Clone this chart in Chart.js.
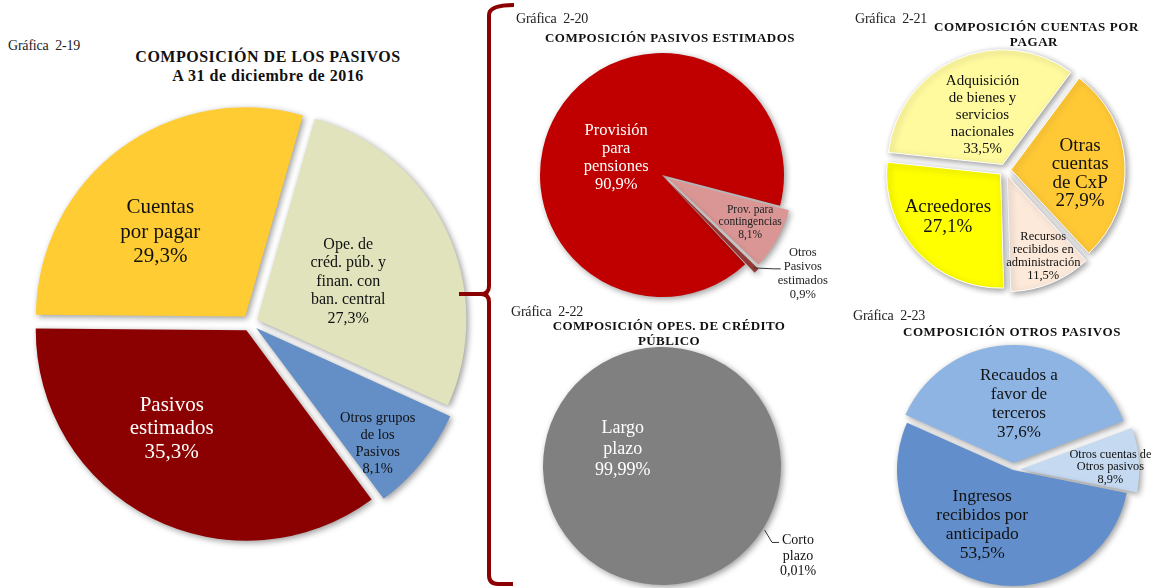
<!DOCTYPE html>
<html>
<head>
<meta charset="utf-8">
<script src="https://cdn.jsdelivr.net/npm/chart.js@4.4.1/dist/chart.umd.min.js"></script>
<style>
    body { margin: 0; width: 1159px; height: 588px; overflow: hidden; background: #fff; font-family: 'Liberation Serif', 'Times New Roman', serif; }
    canvas { position: absolute; }
    .tag { position: absolute; font-size: 14px; color: #222; white-space: nowrap; letter-spacing: -0.2px; }
    .ttl { position: absolute; font-size: 13px; font-weight: bold; color: #111; text-align: center; white-space: nowrap; line-height: 15px; }
    svg { position: absolute; left: 0; top: 0; }
</style>
</head>
<body>
<canvas id="chart19" width="500" height="460" style="left:0px; top:93px"></canvas>
<canvas id="chart20" width="340" height="300" style="left:492px; top:25px"></canvas>
<canvas id="chart21" width="300" height="290" style="left:855px; top:25px"></canvas>
<canvas id="chart22" width="340" height="260" style="left:492px; top:336px"></canvas>
<canvas id="chart23" width="290" height="260" style="left:868px; top:340px"></canvas>

<div class="tag" style="left:8px; top:38px">Gráfica&nbsp; 2-19</div>
<div class="ttl" style="left:118px; top:47px; width:300px; font-size:16px; line-height:19px; letter-spacing:0.5px">COMPOSICIÓN DE LOS PASIVOS<br>A 31 de diciembre de 2016</div>

<div class="tag" style="left:516px; top:11px">Gráfica&nbsp; 2-20</div>
<div class="ttl" style="left:520px; top:30px; width:300px; letter-spacing:0.5px">COMPOSICIÓN PASIVOS ESTIMADOS</div>

<div class="tag" style="left:855px; top:11px">Gráfica&nbsp; 2-21</div>
<div class="ttl" style="left:934px; top:19px; width:200px; letter-spacing:0.6px">COMPOSICIÓN CUENTAS POR<br>PAGAR</div>

<div class="tag" style="left:511px; top:304px">Gráfica&nbsp; 2-22</div>
<div class="ttl" style="left:519px; top:318px; width:300px; letter-spacing:0.4px">COMPOSICIÓN OPES. DE CRÉDITO<br>PÚBLICO</div>

<div class="tag" style="left:853px; top:308px">Gráfica&nbsp; 2-23</div>
<div class="ttl" style="left:862px; top:324px; width:300px; letter-spacing:0.6px">COMPOSICIÓN OTROS PASIVOS</div>

<svg width="1159" height="588">
    <path d="M514,5 Q489,5 489,15 L489,286 Q489,294 481,294 L459,294 M481,294 Q489,294 489,302 L489,575 Q489,584 498,584 L513,584"
          stroke="#8B0000" stroke-width="4" fill="none"/>
</svg>

<script>
// Gráfica 2-19 composición de los pasivos
const pasivosLabels = [['Ope. de', 'créd. púb. y', 'finan. con', 'ban. central'], ['Otros grupos', 'de los', 'Pasivos'], ['Pasivos', 'estimados'], ['Cuentas', 'por pagar']];
const pasivosValues = [27.3, 8.1, 35.3, 29.3];
const pasivosColors = ['#E0E3BB', '#638EC6', '#8B0000', '#FFCC33'];

// Gráfica 2-20 pasivos estimados
const estimadosLabels = [['Provisión', 'para', 'pensiones'], ['Prov. para', 'contingencias'], ['Otros', 'Pasivos', 'estimados']];
const estimadosValues = [90.9, 8.1, 0.9];
const estimadosColors = ['#C00000', '#D99694', '#953735'];

// Gráfica 2-21 cuentas por pagar
const cxpLabels = [['Adquisición', 'de bienes y', 'servicios', 'nacionales'], ['Otras', 'cuentas', 'de CxP'], ['Recursos', 'recibidos en', 'administración'], ['Acreedores']];
const cxpValues = [33.5, 27.9, 11.5, 27.1];
const cxpColors = ['#FFFA9E', '#FFC936', '#FCE9DA', '#FFFF00'];

// Gráfica 2-22 operaciones de crédito público
const creditoLabels = [['Largo', 'plazo'], ['Corto', 'plazo']];
const creditoValues = [99.99, 0.01];
const creditoColors = ['#808080', '#808080'];

// Gráfica 2-23 otros pasivos
const otrosLabels = [['Recaudos a', 'favor de', 'terceros'], ['Otros cuentas de', 'Otros pasivos'], ['Ingresos', 'recibidos por', 'anticipado']];
const otrosValues = [37.6, 8.9, 53.5];
const otrosColors = ['#8DB4E2', '#C5D9F1', '#628FCB'];

const serif = "'Liberation Serif', 'Times New Roman', serif";

function formatPct(v, decimals) {
    return v.toFixed(decimals).replace('.', ',') + '%';
}

// soft drop shadow under the slices
const shadowPlugin = {
    id: 'sliceShadow',
    beforeDatasetsDraw(chart) {
        const ctx = chart.ctx;
        ctx.save();
        ctx.shadowColor = 'rgba(0,0,0,0.4)';
        ctx.shadowBlur = 6;
        ctx.shadowOffsetX = 2;
        ctx.shadowOffsetY = 2;
    },
    afterDatasetsDraw(chart) {
        chart.ctx.restore();
    }
};

// labels placed from each arc: rf = fraction of radius, shift = degrees from mid angle
function sliceLabels(names, values, decimals, spec) {
    return {
        id: 'sliceLabels',
        afterDatasetsDraw(chart) {
            const ctx = chart.ctx;
            const arcs = chart.getDatasetMeta(0).data;
            arcs.forEach((arc, i) => {
                const s = spec[i];
                const mid = (arc.startAngle + arc.endAngle) / 2;
                const ang = mid + s.shift * Math.PI / 180;
                const cx = arc.x + Math.cos(ang) * arc.outerRadius * s.rf;
                const cy = arc.y + Math.sin(ang) * arc.outerRadius * s.rf;
                const lines = names[i].concat([formatPct(values[i], decimals)]);
                ctx.save();
                ctx.font = s.size + 'px ' + serif;
                ctx.fillStyle = s.color;
                ctx.textAlign = 'center';
                ctx.textBaseline = 'middle';
                const top = cy - (lines.length - 1) * s.lineH / 2;
                lines.forEach((t, k) => ctx.fillText(t, cx, top + k * s.lineH));
                if (s.leader) {
                    // short elbow line from the slice edge to the outside label
                    const w = ctx.measureText(lines[s.leader.line]).width;
                    const ex = cx - w / 2 - 3;
                    const ey = top + s.leader.line * s.lineH + 2;
                    const r0 = arc.outerRadius + (arc.options.offset || 0) / 4 + 2;
                    const sx = arc.x + Math.cos(mid) * r0;
                    const sy = arc.y + Math.sin(mid) * r0;
                    ctx.strokeStyle = '#333';
                    ctx.lineWidth = 1;
                    ctx.beginPath();
                    ctx.moveTo(sx, sy);
                    ctx.lineTo(ex - 7, ey);
                    ctx.lineTo(ex, ey);
                    ctx.stroke();
                }
                ctx.restore();
            });
        }
    };
}

function createPie(id, names, values, colors, opts, decimals, spec) {
    const ctx = document.getElementById(id);
    return new Chart(ctx, {
        type: 'pie',
        data: {
            labels: names.map(n => n.join(' ')),
            datasets: [{
                data: values,
                backgroundColor: colors,
                borderColor: '#ffffff',
                borderWidth: opts.borderWidth,
                offset: opts.offset    // chart.js draws offset / 4 px
            }]
        },
        options: {
            responsive: false,
            animation: false,
            radius: opts.radius,
            rotation: opts.rotation,
            layout: { padding: 0 },
            plugins: {
                legend: { display: false },
                tooltip: { enabled: false }
            }
        },
        plugins: [shadowPlugin, sliceLabels(names, values, decimals, spec)]
    });
}

function drawAll() {
    createPie('chart19', pasivosLabels, pasivosValues, pasivosColors,
        { radius: 209, rotation: 16, offset: 32, borderWidth: 0 }, 1, [
            { rf: 0.51, shift: 2, size: 16, lineH: 18.5, color: '#111' },
            { rf: 0.84, shift: 4.5, size: 14.5, lineH: 17, color: '#111' },
            { rf: 0.63, shift: 9.5, size: 21, lineH: 23.5, color: '#fff' },
            { rf: 0.61, shift: -8, size: 21, lineH: 24.5, color: '#111' }
        ]);

    createPie('chart20', estimadosLabels, estimadosValues, estimadosColors,
        { radius: 122, rotation: 137, offset: [0, 26, 26], borderWidth: 0 }, 1, [
            { rf: 0.40, shift: -10.5, size: 16.5, lineH: 18, color: '#fff' },
            { rf: 0.82, shift: -1, size: 11.5, lineH: 12.5, color: '#222' },
            { rf: 1.41, shift: -10.3, size: 12.5, lineH: 14, color: '#222', leader: { line: 1 } }
        ]);

    createPie('chart21', cxpLabels, cxpValues, cxpColors,
        { radius: 114, rotation: -84, offset: 24, borderWidth: 1 }, 1, [
            { rf: 0.52, shift: 1.4, size: 15, lineH: 17, color: '#111' },
            { rf: 0.66, shift: 6, size: 19, lineH: 18.5, color: '#111' },
            { rf: 0.83, shift: -1.6, size: 12.5, lineH: 13, color: '#111' },
            { rf: 0.65, shift: 3.2, size: 19, lineH: 20, color: '#111' }
        ]);

    createPie('chart22', creditoLabels, creditoValues, creditoColors,
        { radius: 119, rotation: 122, offset: 0, borderWidth: 0 }, 2, [
            { rf: 0.36, shift: -8.4, size: 18, lineH: 21, color: '#fff' },
            { rf: 1.37, shift: 1.5, size: 14, lineH: 15.5, color: '#111', leader: { line: 0 } }
        ]);

    createPie('chart23', otrosLabels, otrosValues, otrosColors,
        { radius: 116, rotation: -66, offset: [28, 28, 0], borderWidth: 0 }, 1, [
            { rf: 0.57, shift: 3.4, size: 17, lineH: 19, color: '#111' },
            { rf: 0.84, shift: 3, size: 12.3, lineH: 12.5, color: '#111' },
            { rf: 0.54, shift: 11.7, size: 17.5, lineH: 19, color: '#111' }
        ]);
}

document.fonts.load("16px 'Liberation Serif'").then(drawAll, drawAll);
</script>
</body>
</html>
